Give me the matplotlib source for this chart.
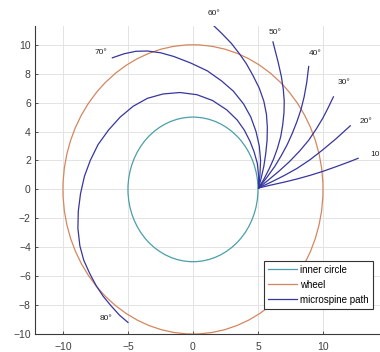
import numpy as np
import matplotlib.pyplot as plt
from matplotlib.patches import Circle
from matplotlib.lines import Line2D

plt.rcParams['font.family'] = ['Liberation Sans', 'DejaVu Sans']

# circle radii
inner_r = 5
wheel_r = 10

# microspine paths, (x, y)
path10 = [(5.05, 0.1), (6, 0.3), (7, 0.5), (8, 0.72), (9, 0.97), (10, 1.25), (11, 1.57),
          (12, 1.9), (12.7, 2.15)]
path20 = [(5.05, 0.1), (6, 0.5), (7, 0.95), (8, 1.45), (9, 2.05), (10, 2.75), (11, 3.5),
          (12.1, 4.4)]
path30 = [(5.05, 0.1), (5.8, 0.65), (6.6, 1.25), (7.4, 1.9), (8.2, 2.65), (8.9, 3.4),
          (9.5, 4.2), (10.0, 4.95), (10.4, 5.65), (10.8, 6.4)]
path40 = [(5.05, 0.1), (5.7, 0.85), (6.3, 1.6), (6.8, 2.35), (7.25, 3.1), (7.65, 3.9),
          (8.0, 4.7), (8.3, 5.5), (8.55, 6.4), (8.75, 7.4), (8.9, 8.5)]
path50 = [(5.05, 0.1), (5.45, 0.7), (5.85, 1.4), (6.2, 2.1), (6.5, 2.85), (6.75, 3.65),
          (6.9, 4.45), (7.0, 5.3), (7.02, 6.1), (6.95, 6.9), (6.8, 7.8), (6.55, 8.8),
          (6.35, 9.5), (6.15, 10.2)]
path60 = [(5.05, 0.1), (5.25, 0.8), (5.45, 1.6), (5.6, 2.5), (5.7, 3.4), (5.72, 4.3),
          (5.65, 5.2), (5.45, 6.1), (5.1, 7.0), (4.6, 7.9), (4.1, 8.7), (3.6, 9.35),
          (2.95, 10.1), (2.2, 10.8), (1.5, 11.4)]
path70 = [(5.05, 0.1), (5.15, 1.0), (5.2, 2.0), (5.1, 3.0), (4.85, 4.0), (4.45, 5.0),
          (3.9, 5.9), (3.1, 6.8), (2.2, 7.5), (1.1, 8.2), (-0.2, 8.75), (-1.5, 9.2),
          (-2.5, 9.45), (-3.5, 9.57), (-4.4, 9.55), (-5.3, 9.38), (-6.2, 9.1)]
path80 = [(5.05, 0.1), (5.05, 0.9), (4.95, 1.8), (4.7, 2.6), (4.4, 3.3), (3.95, 4.1),
          (3.4, 4.8), (2.6, 5.5), (1.5, 6.15), (0.3, 6.55), (-1.0, 6.7), (-2.3, 6.6),
          (-3.5, 6.3), (-4.6, 5.75), (-5.6, 5.0), (-6.5, 4.1), (-7.3, 3.1), (-7.9, 2.0),
          (-8.35, 0.9), (-8.65, -0.3), (-8.82, -1.5), (-8.85, -2.7), (-8.7, -3.9),
          (-8.4, -4.9), (-7.95, -5.8), (-7.45, -6.65), (-6.9, -7.4), (-6.3, -8.05),
          (-5.65, -8.7), (-5.0, -9.2)]

paths = [path10, path20, path30, path40, path50, path60, path70, path80]
angle_labels = ['10°', '20°', '30°', '40°', '50°', '60°', '70°', '80°']
legend_labels = ['inner circle', 'wheel', 'microspine path']

# label placement relative to path end (pixels) and alignment
label_offsets = [(12, 4), (9, 4), (4, 14), (0, 13), (-4, 9), (-5, 11), (-5, 5), (-16, 4)]
label_ha = ['left', 'left', 'left', 'left', 'left', 'left', 'right', 'right']

c_inner = '#4a9fa8'
c_wheel = '#d4875e'
c_path = '#3636a0'
c_axis = '#3a3a3a'

fig = plt.figure(figsize=(3.8, 3.52), dpi=100)
ax = fig.add_axes([35 / 380, 18 / 352, 353 / 380, 308 / 352])

ax.add_patch(Circle((0, 0), inner_r, fill=False, color=c_inner, lw=0.9))
ax.add_patch(Circle((0, 0), wheel_r, fill=False, color=c_wheel, lw=0.9))

for p, lab, off, ha in zip(paths, angle_labels, label_offsets, label_ha):
    xs = [q[0] for q in p]
    ys = [q[1] for q in p]
    ax.plot(xs, ys, color=c_path, lw=0.9, solid_joinstyle='round')
    ax.annotate(lab, (xs[-1], ys[-1]), xytext=off, textcoords='offset pixels',
                ha=ha, va='center', fontsize=6, color='#222222',
                annotation_clip=False)

ax.set_xlim(-12.15, 15)
ax.set_ylim(-10, 11.3)
ax.set_xticks([-10, -5, 0, 5, 10])
ax.set_yticks(np.arange(-10, 11, 2))
ax.grid(True, color='#e3e3e3', lw=0.7)
ax.set_axisbelow(True)
for s in ['top', 'right']:
    ax.spines[s].set_visible(False)
for s in ['left', 'bottom']:
    ax.spines[s].set_color(c_axis)
    ax.spines[s].set_linewidth(0.8)
ax.tick_params(direction='in', length=2.5, width=0.6, colors=c_axis,
               labelsize=7.5, labelcolor='#404040')
ax.tick_params(axis='x', pad=6)
ax.tick_params(axis='y', pad=3)

handles = [Line2D([], [], color=c_inner, lw=0.9),
           Line2D([], [], color=c_wheel, lw=0.9),
           Line2D([], [], color=c_path, lw=0.9)]
leg = ax.legend(handles, legend_labels, loc='upper left', bbox_to_anchor=(0.649, 0.237),
                borderaxespad=0, fontsize=7, handlelength=3.0, handletextpad=0.3,
                borderpad=0.4, labelspacing=0.5, fancybox=False, framealpha=1)
leg.get_frame().set_edgecolor('#333333')
leg.get_frame().set_linewidth(0.8)

fig.savefig('out.png', dpi=100)
